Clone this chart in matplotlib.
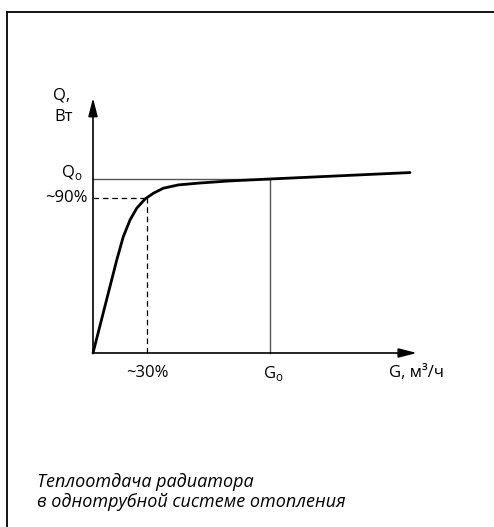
import matplotlib.pyplot as plt
from matplotlib.lines import Line2D

plt.rcParams['font.family'] = ['Open Sans', 'DejaVu Sans']

# кривая теплоотдачи: G/Go и Q/Qo
g_rel = [0.0, 0.134, 0.171, 0.209, 0.247, 0.294, 0.341, 0.397, 0.482, 0.605, 0.774, 1.0, 1.791]
q_rel = [0.0, 0.534, 0.668, 0.764, 0.832, 0.885, 0.918, 0.947, 0.966, 0.977, 0.989, 1.0, 1.037]

g_30 = 0.305   # ~30%
q_90 = 0.89    # ~90%
g_max = 1.83
q_max = 1.466

caption = ['Теплоотдача радиатора', 'в однотрубной системе отопления']

W, H = 494, 527
x0, y0 = 93, 353        # начало координат, px
sx, sy = 177, 174       # px на единицу

fig = plt.figure(figsize=(W / 100, H / 100), dpi=100)
ax = fig.add_axes([0, 0, 1, 1])
ax.set_xlim(-x0 / sx, (W - x0) / sx)
ax.set_ylim((y0 - H) / sy, y0 / sy)
ax.axis('off')

# рамка
fig.add_artist(Line2D([7 / W, 7 / W], [0, 1 - 12 / H], color='black', lw=1.3))
fig.add_artist(Line2D([7 / W, 1], [1 - 12 / H, 1 - 12 / H], color='black', lw=1.3))

# оси со стрелками
arrow = dict(arrowstyle='-|>,head_length=1.1,head_width=0.28', color='black', lw=1.2,
             shrinkA=0, shrinkB=0)
ax.annotate('', xy=(0, q_max), xytext=(0, 0), arrowprops=arrow)
ax.annotate('', xy=(g_max, 0), xytext=(0, 0), arrowprops=arrow)

# Qo и Go
ax.plot([0, 1], [1, 1], color='#555555', lw=1.0)
ax.plot([1, 1], [0, 1], color='#555555', lw=1.0)

# ~90% / ~30%
ax.plot([0, g_30], [q_90, q_90], color='black', lw=0.9, ls=(0, (4.5, 3)))
ax.plot([g_30, g_30], [0, q_90], color='black', lw=0.9, ls=(0, (4.5, 3)))

ax.plot(g_rel, q_rel, color='black', lw=2.0, solid_capstyle='round', solid_joinstyle='round')

fs = 12
ax.text(-0.175, 1.48, 'Q,', fontsize=fs, ha='center', va='center')
ax.text(-0.165, 1.355, 'Вт', fontsize=fs, ha='center', va='center')
ax.text(-0.12, 1.04, 'Q$_\\mathregular{o}$', fontsize=fs, ha='center', va='center')
ax.text(-0.03, q_90, '~90%', fontsize=fs, ha='right', va='center')
ax.text(g_30, -0.115, '~30%', fontsize=fs, ha='center', va='center')
ax.text(1.02, -0.115, 'G$_\\mathregular{o}$', fontsize=fs, ha='center', va='center')
ax.text(1.67, -0.115, 'G, м³/ч', fontsize=fs, ha='left', va='center')

ax.text((37 - x0) / sx, (y0 - 482) / sy, caption[0], fontsize=13, style='italic',
        ha='left', va='center')
ax.text((37 - x0) / sx, (y0 - 502) / sy, caption[1], fontsize=13, style='italic',
        ha='left', va='center')

fig.savefig('out.png', dpi=100)
